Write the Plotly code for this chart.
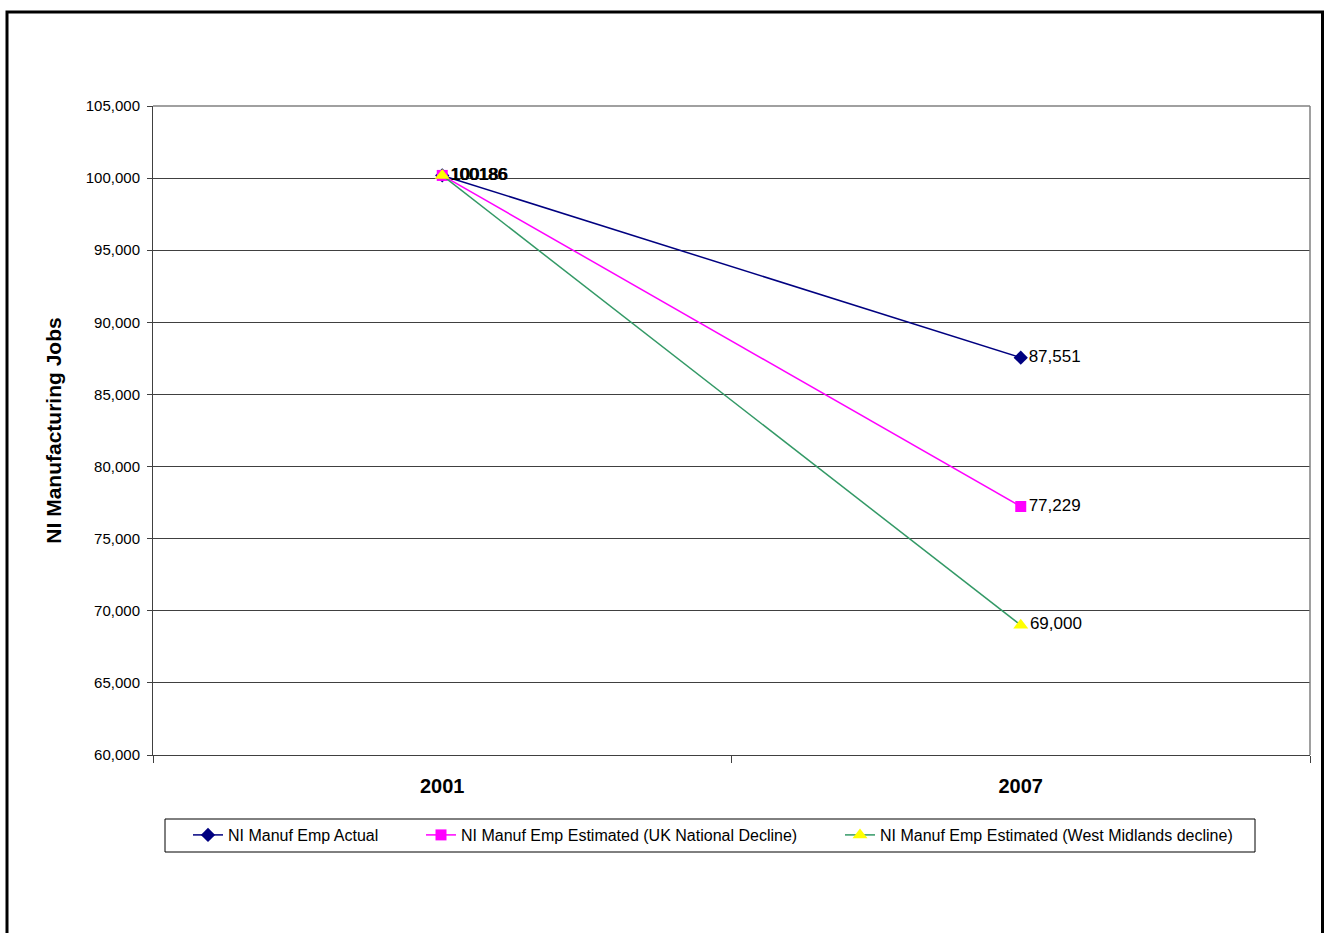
import plotly.graph_objects as go

years = ["2001", "2007"]
actual = [100186, 87551]
uk_decline = [100186, 77229]
wm_decline = [100186, 69000]
start_label = "100186"
end_labels_actual = "87,551"
end_labels_uk = "77,229"
end_labels_wm = "69,000"

W, H = 1324, 933
L, R, T, B = 153, 14, 106, 178
PW, PH = W - L - R, H - T - B

def px(x):
    return (x - L) / PW

def py(y):
    return (H - B - y) / PH

FONT = "Arial, Liberation Sans, sans-serif"

fig = go.Figure()

series = [
    ("NI Manuf Emp Actual", actual, "#000080", "diamond", "#000080", 11, end_labels_actual, "legend"),
    ("NI Manuf Emp Estimated (UK National Decline)", uk_decline, "#FF00FF", "square", "#FF00FF", 11, end_labels_uk, "legend2"),
    ("NI Manuf Emp Estimated (West Midlands decline)", wm_decline, "#339966", "triangle-up", "#FFFF00", 13, end_labels_wm, "legend3"),
]

for name, vals, lc, sym, mc, ms, endlab, lg in series:
    fig.add_trace(go.Scatter(
        x=years, y=vals, name=name, mode="lines+markers+text",
        line=dict(color=lc, width=1.5),
        marker=dict(symbol=sym, color=mc, size=ms, line=dict(width=0)),
        text=[start_label, endlab],
        textposition="middle right",
        textfont=dict(family=FONT, size=17, color="#000000"),
        cliponaxis=False,
        legend=lg,
    ))

shapes = [
    dict(type="rect", xref="paper", yref="paper",
         x0=px(7), x1=px(1322.5), y0=py(960), y1=py(12),
         line=dict(color="#000000", width=3), fillcolor="rgba(0,0,0,0)", layer="above"),
    dict(type="line", xref="paper", yref="paper", x0=0, x1=1, y0=1, y1=1,
         line=dict(color="#808080", width=1.5)),
    dict(type="line", xref="paper", yref="paper", x0=1, x1=1, y0=0, y1=1,
         line=dict(color="#808080", width=1.5)),
    dict(type="rect", xref="paper", yref="paper",
         x0=px(165), x1=px(1255), y0=py(852), y1=py(819),
         line=dict(color="#000000", width=1), fillcolor="rgba(0,0,0,0)"),
]

def leg(xpix):
    return dict(orientation="h", x=px(xpix), y=py(818), xanchor="left", yanchor="top",
                font=dict(family=FONT, size=16, color="#000000"),
                bgcolor="rgba(0,0,0,0)", borderwidth=0)

fig.update_layout(
    width=W, height=H,
    margin=dict(l=L, r=R, t=T, b=B, autoexpand=False),
    paper_bgcolor="#FFFFFF", plot_bgcolor="#FFFFFF",
    font=dict(family=FONT, size=14, color="#000000"),
    showlegend=True,
    legend=leg(188),
    legend2=leg(421),
    legend3=leg(840),
    shapes=shapes,
    xaxis=dict(type="category", range=[-0.5, 1.5], tickson="boundaries",
               ticks="outside", ticklen=7, tickcolor="#404040", tickwidth=1,
               showline=True, linecolor="#404040", linewidth=1,
               showgrid=False, zeroline=False,
               tickfont=dict(family=FONT, size=20, weight="bold", color="#000000"),
               ticklabelstandoff=13),
    yaxis=dict(range=[60000, 105000], dtick=5000, tick0=60000, tickformat=",d",
               ticks="outside", ticklen=5, tickcolor="#404040",
               showline=True, linecolor="#404040", linewidth=1,
               showgrid=True, gridcolor="#404040", gridwidth=1, zeroline=False,
               tickfont=dict(family=FONT, size=15, color="#000000"),
               ticklabelstandoff=4,
               title=dict(text="NI Manufacturing Jobs", standoff=18,
                          font=dict(family=FONT, size=21, weight="bold", color="#000000"))),
)

fig.write_html("out.html")
